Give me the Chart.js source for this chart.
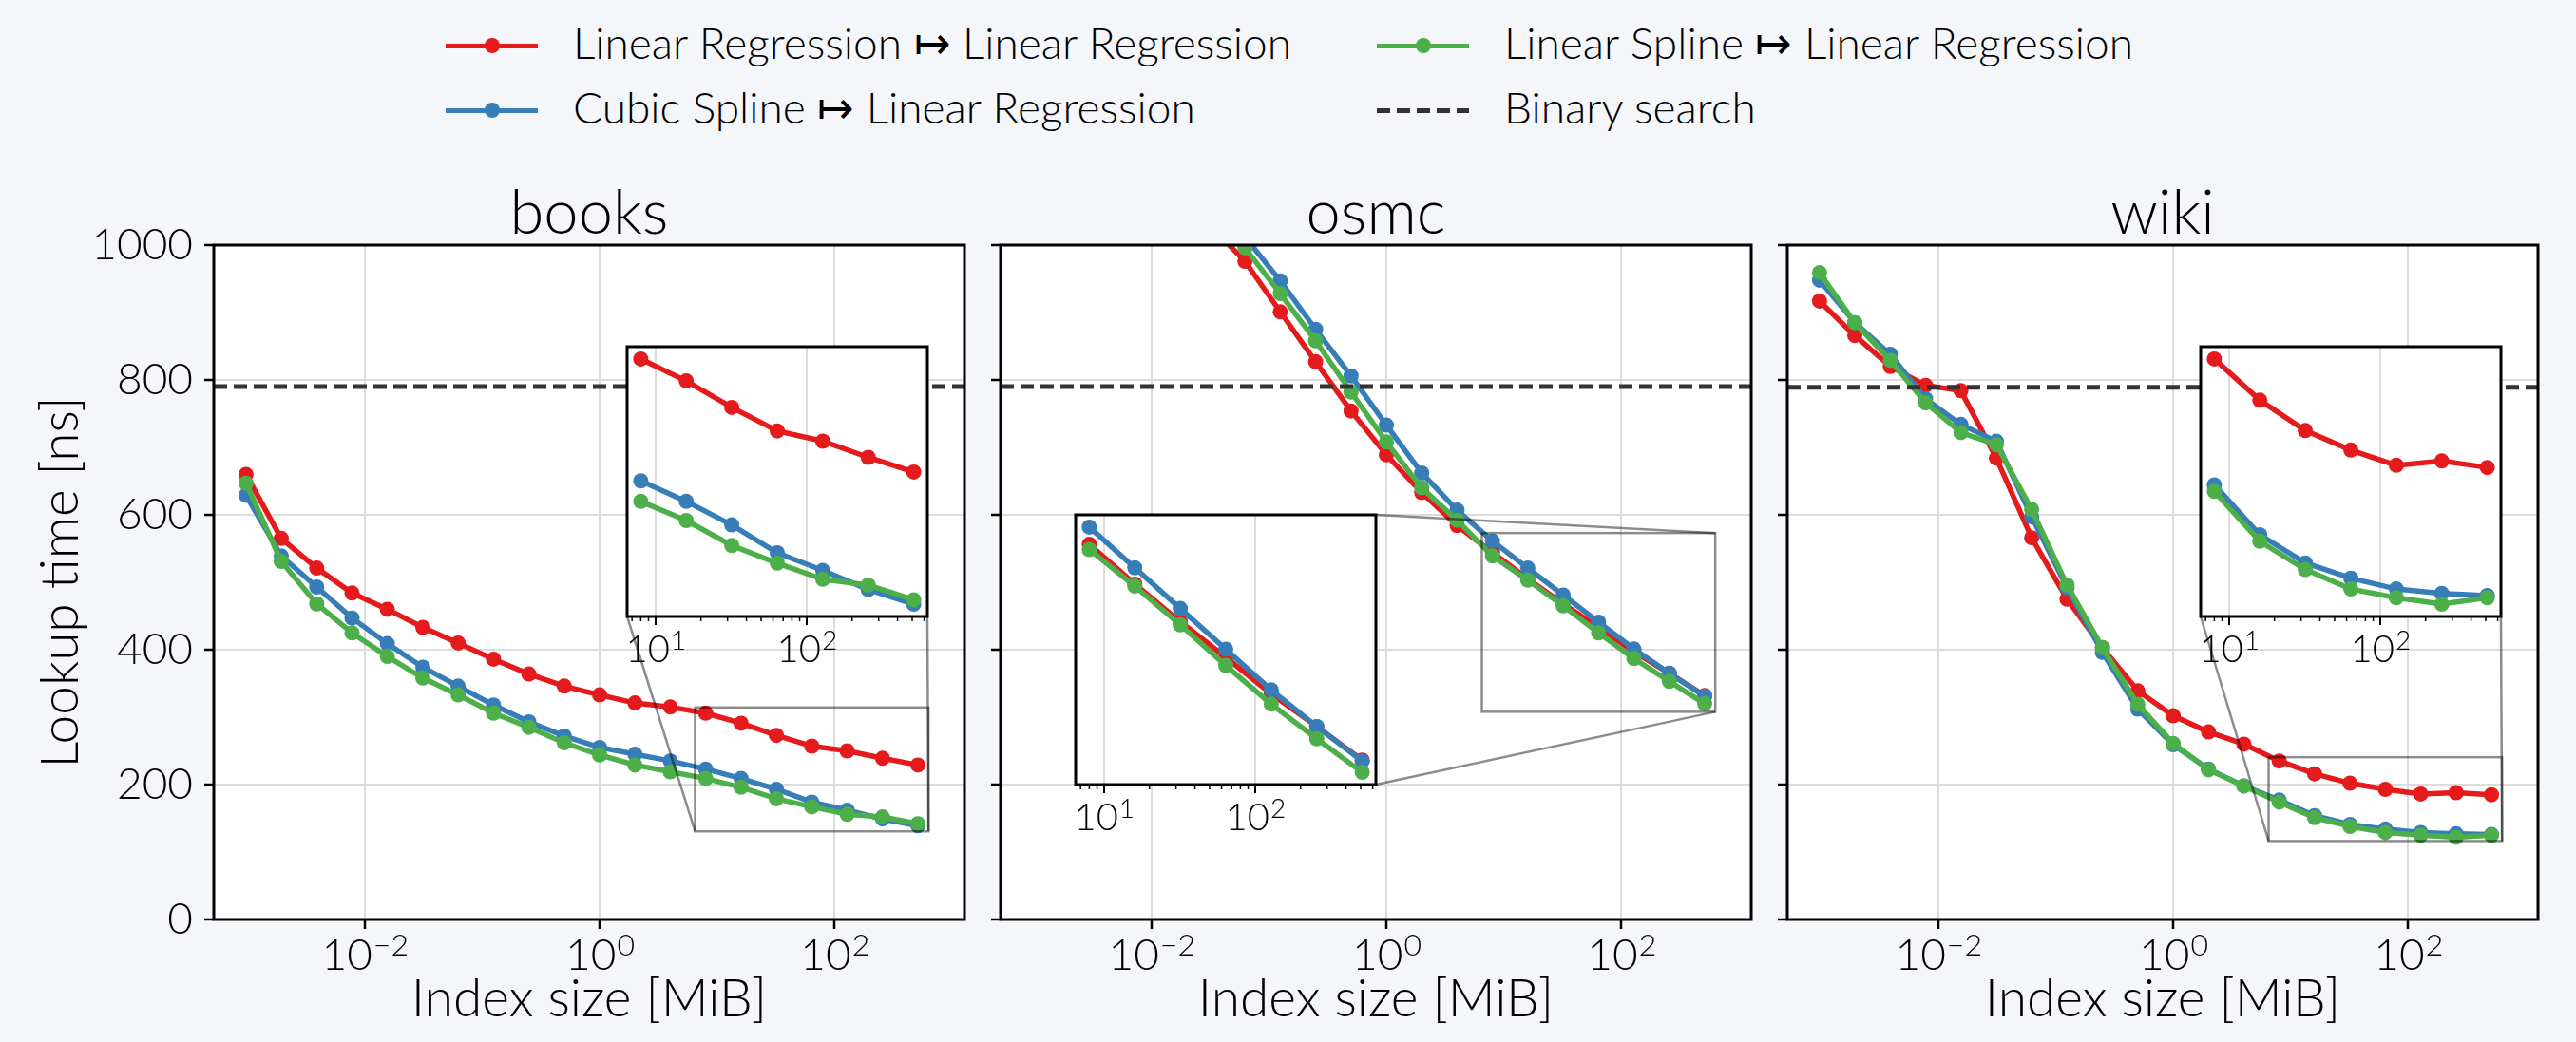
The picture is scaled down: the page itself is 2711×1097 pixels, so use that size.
<!DOCTYPE html>
<html>
<head>
<meta charset="utf-8">
<script src="https://cdn.jsdelivr.net/npm/chart.js@4.4.1/dist/chart.umd.min.js"></script>
<style>
  body { margin: 0; background: #f5f6fa; }
  #page { position: relative; width: 2711px; height: 1097px; overflow: hidden;
          font-family: 'Lato Light', Lato, 'DejaVu Sans', sans-serif; font-weight: 300; }
  canvas { position: absolute; }
  .sw { position: absolute; height: 5px; width: 97px; }
  .dot { position: absolute; width: 16px; height: 16px; border-radius: 50%; }
  .lab { position: absolute; font-size: 46px; line-height: 60px; height: 60px; white-space: nowrap; color: #000; }
</style>
</head>
<body>
<div id="page"></div>
<script>
// index size in MiB (powers of two)
var sizes = [0.000977, 0.00195, 0.00391, 0.00781, 0.0156, 0.0313, 0.0625, 0.125, 0.25, 0.5,
             1, 2, 4, 8, 16, 32, 64, 128, 256, 512];
var majorTicks = [0.01, 1, 100];
var insetTicks = [10, 100];
var insetFrom = 13; // inset shows 8 MiB .. 512 MiB

var titles = ['books', 'osmc', 'wiki'];
var seriesNames = ['Linear Regression \u21a6 Linear Regression', 'Cubic Spline \u21a6 Linear Regression',
                   'Linear Spline \u21a6 Linear Regression', 'Binary search'];
var colors = ['#e41a1c', '#377eb8', '#4daf4a'];

// lookup time [ns]
var booksLR = [660, 565, 521, 484, 460, 433, 410, 386, 364, 346, 333, 321, 315, 306, 291, 273, 257, 250, 239, 229];
var booksCS = [629, 539, 493, 447, 409, 374, 346, 318, 293, 272, 255, 245, 235, 223, 209, 193, 174, 162, 149, 139];
var booksLS = [647, 531, 468, 425, 390, 358, 333, 306, 285, 262, 244, 229, 219, 209, 196, 179, 167, 156, 152, 142];

var osmcLR = [null, null, null, null, null, 1030, 976, 901, 827, 754, 689, 633, 584, 544, 505, 468, 433, 397, 365, 332];
var osmcCS = [null, null, null, null, null, 1080, 1012, 947, 875, 806, 733, 662, 607, 561, 521, 481, 441, 401, 365, 331];
var osmcLS = [null, null, null, null, null, 1060, 996, 928, 858, 782, 708, 640, 592, 539, 503, 465, 425, 387, 353, 320];

var wikiLR = [917, 866, 820, 792, 784, 684, 566, 475, 403, 339, 302, 278, 260, 235, 216, 202, 193, 186, 188, 185];
var wikiCS = [948, 885, 838, 772, 734, 709, 597, 492, 396, 312, 259, 223, 198, 177, 154, 141, 134, 129, 127, 126];
var wikiLS = [959, 885, 829, 766, 722, 704, 608, 496, 403, 319, 261, 222, 198, 174, 151, 138, 129, 125, 122, 125];

var binarySearch = [790, 790, 789];

var panelData = [[booksLR, booksCS, booksLS], [osmcLR, osmcCS, osmcLS], [wikiLR, wikiCS, wikiLS]];

// layout (px)
var X_MIN = 0.00052, X_MAX = 1275;
var PLOT_L = [225, 1053, 1881], PLOT_T = 258, PLOT_W = 790, PLOT_H = 710;
var CANVAS_T = 188, CANVAS_H = 909;
var canvasL = [0, 1034, 1862], canvasW = [1034, 828, 849];
var insetFrac = [[0.55, 0.45, 0.4, 0.4], [0.1, 0.2, 0.4, 0.4], [0.55, 0.45, 0.4, 0.4]];
var insetLocs = [[3, 4], [1, 4], [3, 4]];

var FONT = "'Lato Light', Lato, 'DejaVu Sans', sans-serif";
Chart.defaults.font.family = FONT;
Chart.defaults.font.weight = '300';
Chart.defaults.color = '#000';

var page = document.getElementById('page');

function addCanvas(l, t, w, h) {
  var c = document.createElement('canvas');
  c.width = w; c.height = h;
  c.style.left = l + 'px'; c.style.top = t + 'px';
  c.style.width = w + 'px'; c.style.height = h + 'px';
  page.appendChild(c);
  return c;
}

function insetLimits(list) {
  var xs = sizes.slice(insetFrom);
  var lx0 = Math.log10(xs[0]), lx1 = Math.log10(xs[xs.length - 1]);
  var mx = (lx1 - lx0) * 0.05;
  var ys = [];
  list.forEach(function (s) { s.slice(insetFrom).forEach(function (v) { if (v != null) ys.push(v); }); });
  var y0 = Math.min.apply(null, ys), y1 = Math.max.apply(null, ys), my = (y1 - y0) * 0.05;
  return { xmin: Math.pow(10, lx0 - mx), xmax: Math.pow(10, lx1 + mx), ymin: y0 - my, ymax: y1 + my };
}

function corner(b, loc) {
  if (loc === 1) return [b.r, b.t];
  if (loc === 2) return [b.l, b.t];
  if (loc === 3) return [b.l, b.b];
  return [b.r, b.b];
}

var framePlugin = {
  id: 'frame',
  beforeDraw: function (chart) {
    var a = chart.chartArea, ctx = chart.ctx;
    ctx.save();
    ctx.fillStyle = '#fff';
    ctx.fillRect(a.left, a.top, a.width, a.height);
    ctx.restore();
  },
  afterDatasetsDraw: function (chart, args, opts) {
    var a = chart.chartArea, ctx = chart.ctx;
    ctx.save();
    if (opts.zoom) {
      var z = opts.zoom, sx = chart.scales.x, sy = chart.scales.y;
      var rb = { l: sx.getPixelForValue(z.lim.xmin), r: sx.getPixelForValue(z.lim.xmax),
                 t: sy.getPixelForValue(z.lim.ymax), b: sy.getPixelForValue(z.lim.ymin) };
      ctx.strokeStyle = 'rgba(0,0,0,0.45)';
      ctx.lineWidth = 2.5;
      ctx.strokeRect(rb.l, rb.t, rb.r - rb.l, rb.b - rb.t);
      z.locs.forEach(function (loc) {
        var p = corner(z.box, loc), q = corner(rb, loc);
        ctx.beginPath(); ctx.moveTo(p[0], p[1]); ctx.lineTo(q[0], q[1]); ctx.stroke();
      });
    }
    ctx.strokeStyle = '#000';
    ctx.lineWidth = 3;
    ctx.strokeRect(a.left, a.top, a.width, a.height);
    ctx.restore();
  },
  afterDraw: function (chart, args, opts) {
    var sc = chart.scales.x, ctx = chart.ctx, size = opts.labelSize;
    var big = '300 ' + size + 'px ' + FONT, small = '300 ' + Math.round(size * 0.7) + 'px ' + FONT;
    ctx.save();
    ctx.fillStyle = '#000';
    ctx.textBaseline = 'alphabetic';
    ctx.textAlign = 'left';
    sc.ticks.forEach(function (t) {
      var e = Math.round(Math.log10(t.value));
      var sup = (e < 0 ? '\u2212' : '') + Math.abs(e);
      ctx.font = big; var w1 = ctx.measureText('10').width;
      ctx.font = small; var w2 = ctx.measureText(sup).width;
      var x0 = sc.getPixelForValue(t.value) - (w1 + w2) / 2;
      var y = sc.top + opts.labelGap;
      ctx.font = big; ctx.fillText('10', x0, y);
      ctx.font = small; ctx.fillText(sup, x0 + w1 + 1, y - size * 0.33);
    });
    if (opts.minor) {
      ctx.strokeStyle = '#000';
      ctx.lineWidth = 1.5;
      for (var e = 0; e <= 2; e++) {
        for (var m = 2; m <= 9; m++) {
          var v = m * Math.pow(10, e);
          if (v <= sc.min || v >= sc.max) continue;
          var x = sc.getPixelForValue(v);
          ctx.beginPath(); ctx.moveTo(x, sc.top); ctx.lineTo(x, sc.top + 5); ctx.stroke();
        }
      }
    }
    ctx.restore();
  }
};

function lineSet(vals, j, from) {
  return {
    data: sizes.slice(from).map(function (x, k) { return { x: x, y: vals[from + k] }; }),
    borderColor: colors[j], backgroundColor: colors[j],
    borderWidth: 5.5, pointRadius: 8, pointBorderWidth: 0,
    pointBackgroundColor: colors[j], tension: 0, order: 3 - j, clip: 0
  };
}

var gridOpts = { color: '#dcdcdc', lineWidth: 2, tickColor: '#000', tickLength: 10, tickWidth: 2.5 };

function makePanel(i) {
  var lim = insetLimits(panelData[i]);
  var f = insetFrac[i];
  var box = { l: Math.round(PLOT_L[i] + f[0] * PLOT_W), t: Math.round(PLOT_T + (1 - f[1] - f[3]) * PLOT_H) };
  box.r = box.l + Math.round(f[2] * PLOT_W);
  box.b = box.t + Math.round(f[3] * PLOT_H);

  var ds = panelData[i].map(function (vals, j) { return lineSet(vals, j, 0); });
  ds.push({
    data: [{ x: X_MIN, y: binarySearch[i] }, { x: X_MAX, y: binarySearch[i] }],
    borderColor: '#333', borderWidth: 5, borderDash: [14, 7], pointRadius: 0, order: 0, clip: 0
  });

  var cv = addCanvas(canvasL[i], CANVAS_T, canvasW[i], CANVAS_H);
  new Chart(cv, {
    type: 'line',
    data: { datasets: ds },
    options: {
      responsive: false, animation: false, devicePixelRatio: 1,
      layout: { padding: { left: 0, right: canvasL[i] + canvasW[i] - (PLOT_L[i] + PLOT_W), top: 0, bottom: 0 } },
      plugins: {
        legend: { display: false },
        tooltip: { enabled: false },
        title: { display: true, text: titles[i], fullSize: false, color: '#000',
                 font: { size: 65, weight: '300', lineHeight: 1 }, padding: { top: 5, bottom: 0 } },
        frame: {
          labelSize: 46, labelGap: 53,
          zoom: { lim: lim, locs: insetLocs[i],
                  box: { l: box.l - canvasL[i], r: box.r - canvasL[i], t: box.t - CANVAS_T, b: box.b - CANVAS_T } }
        }
      },
      scales: {
        x: {
          type: 'logarithmic', min: X_MIN, max: X_MAX,
          afterBuildTicks: function (s) { s.ticks = majorTicks.map(function (v) { return { value: v, major: true }; }); },
          afterFit: function (s) { s.height = 129; },
          ticks: { display: false },
          grid: gridOpts,
          border: { display: false },
          title: { display: true, text: 'Index size [MiB]', color: '#000',
                   font: { size: 55, weight: '300' }, padding: { top: 0, bottom: 12 } }
        },
        y: {
          min: 0, max: 1000,
          afterFit: function (s) { s.width = PLOT_L[i] - canvasL[i]; },
          ticks: { display: i === 0, stepSize: 200, padding: 12, color: '#000',
                   font: { size: 46, weight: '300' }, callback: function (v) { return String(v); } },
          grid: gridOpts,
          border: { display: false },
          title: { display: i === 0, text: 'Lookup time [ns]', color: '#000',
                   font: { size: 55, weight: '300' }, padding: { top: 31, bottom: 0 } }
        }
      }
    },
    plugins: [framePlugin]
  });

  // inset axes
  var ic = addCanvas(box.l - 20, box.t - 10, box.r - box.l + 40, box.b - box.t + 80);
  new Chart(ic, {
    type: 'line',
    data: { datasets: panelData[i].map(function (vals, j) { return lineSet(vals, j, insetFrom); }) },
    options: {
      responsive: false, animation: false, devicePixelRatio: 1,
      layout: { padding: { left: 20, right: 20, top: 10, bottom: 0 } },
      plugins: {
        legend: { display: false },
        tooltip: { enabled: false },
        frame: { labelSize: 40, labelGap: 48, minor: true }
      },
      scales: {
        x: {
          type: 'logarithmic', min: lim.xmin, max: lim.xmax,
          afterBuildTicks: function (s) { s.ticks = insetTicks.map(function (v) { return { value: v, major: true }; }); },
          afterFit: function (s) { s.height = 70; },
          ticks: { display: false },
          grid: { color: '#dcdcdc', lineWidth: 2, tickColor: '#000', tickLength: 9, tickWidth: 2 },
          border: { display: false }
        },
        y: { display: false, min: lim.ymin, max: lim.ymax }
      }
    },
    plugins: [framePlugin]
  });
}

for (var i = 0; i < 3; i++) makePanel(i);

// legend
var legendPos = [[469, 48], [469, 116], [1449, 48], [1449, 116]];
seriesNames.forEach(function (name, k) {
  var p = legendPos[k];
  var sw = document.createElement('div');
  sw.className = 'sw';
  sw.style.left = p[0] + 'px';
  sw.style.top = (p[1] - 2.5) + 'px';
  if (k < 3) {
    sw.style.background = colors[k];
    var dot = document.createElement('div');
    dot.className = 'dot';
    dot.style.background = colors[k];
    dot.style.left = (p[0] + 40.5) + 'px';
    dot.style.top = (p[1] - 8) + 'px';
    page.appendChild(sw);
    page.appendChild(dot);
  } else {
    sw.style.background = 'repeating-linear-gradient(90deg, #333 0 14px, transparent 14px 21px)';
    page.appendChild(sw);
  }
  var lab = document.createElement('div');
  lab.className = 'lab';
  lab.textContent = name;
  lab.style.left = (p[0] + 134) + 'px';
  lab.style.top = (p[1] - 33) + 'px';
  page.appendChild(lab);
});
</script>
</body>
</html>
